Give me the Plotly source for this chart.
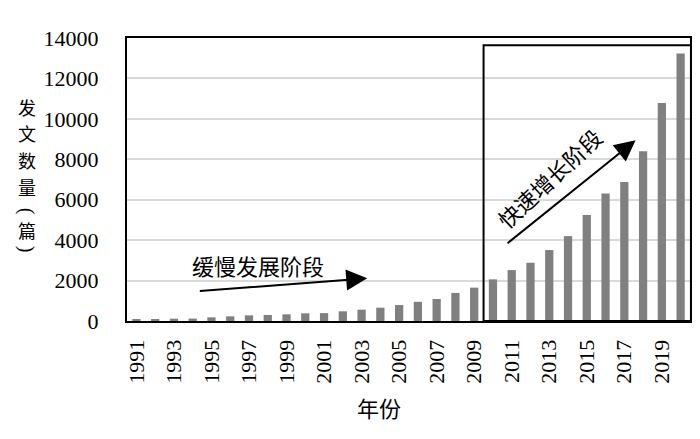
import plotly.graph_objects as go

years = list(range(1991, 2021))
counts = [70, 90, 115, 120, 180, 230, 280, 300, 330, 380,
          390, 480, 560, 660, 790, 950, 1090, 1390, 1650, 2060,
          2520, 2880, 3510, 4200, 5240, 6310, 6880, 8400, 10790, 13230]
tick_years = list(range(1991, 2020, 2))
y_ticks = list(range(0, 14001, 2000))
y_title_chars = ["发", "文", "数", "量", "(", "篇", ")"]
y_title_pos = [107, 133.5, 160, 186.5, 211, 230, 249]  # pixel centres in window
y_title_rot = [0, 0, 0, 0, 90, 0, 90]

serif = "Liberation Serif, Times New Roman, Times, serif"
cjk = "Noto Sans CJK SC, sans-serif"

OFF = 8  # default body margin of the page
W, H = 700 - OFF, 439 - OFF
L, R, T, B = 127 - OFF, 8, 38 - OFF, 118
pw, ph = W - L - R, H - T - B


def px_x(p):
    return (p - OFF - L) / pw


def px_y(p):
    return (T + ph - (p - OFF)) / ph


fig = go.Figure()
fig.add_trace(go.Bar(x=years, y=counts, marker_color="#808080",
                     marker_line_width=0, width=0.44))

annotations = []
annotations.append(dict(x=2003.3, y=2110, ax=1994.3, ay=1480,
                        xref="x", yref="y", axref="x", ayref="y",
                        showarrow=True, arrowhead=2, arrowsize=2.1,
                        arrowwidth=2, arrowcolor="black", text="", standoff=0))
annotations.append(dict(x=1997.5, y=2770, xref="x", yref="y", showarrow=False,
                        xanchor="center", yanchor="middle",
                        text="缓慢发展阶段", font=dict(family=cjk, size=22, color="black")))
annotations.append(dict(x=2017.6, y=8940, ax=2010.7, ay=3790,
                        xref="x", yref="y", axref="x", ayref="y",
                        showarrow=True, arrowhead=2, arrowsize=2.1,
                        arrowwidth=2, arrowcolor="black", text="", standoff=0))
annotations.append(dict(x=2012.96, y=7090, xref="x", yref="y", showarrow=False,
                        xanchor="center", yanchor="middle", textangle=-43,
                        text="快速增长阶段", font=dict(family=cjk, size=22, color="black")))
annotations.append(dict(x=px_x(380), y=px_y(407), xref="paper", yref="paper",
                        xanchor="center", yanchor="middle",
                        showarrow=False, text="年份",
                        font=dict(family=cjk, size=22, color="black")))
# vertical y-axis title, one character per annotation
for ch, py, rot in zip(y_title_chars, y_title_pos, y_title_rot):
    fam = serif if rot else cjk
    size = 20 if rot else 18
    annotations.append(dict(x=px_x(27), y=px_y(py), xref="paper", yref="paper",
                            xanchor="center", yanchor="middle", showarrow=False,
                            textangle=rot, text=ch,
                            font=dict(family=fam, size=size, color="black")))

fig.update_layout(
    width=W, height=H,
    margin=dict(l=L, r=R, t=T, b=B),
    paper_bgcolor="white", plot_bgcolor="white",
    showlegend=False,
    font=dict(family=serif, size=22, color="black"),
    annotations=annotations,
    shapes=[dict(type="rect", xref="x", yref="y", x0=2009.5, x1=2020.55,
                 y0=0, y1=13640, line=dict(color="black", width=2))],
    xaxis=dict(range=[1990.5, 2020.5], tickmode="array", tickvals=tick_years,
               ticktext=[str(v) for v in tick_years], tickangle=-90,
               showgrid=False, showline=True, linecolor="black", linewidth=2,
               mirror=True, ticks="", ticklabelstandoff=8,
               tickfont=dict(family=serif, size=22, color="black"), zeroline=False),
    yaxis=dict(range=[0, 14000], tickmode="array", tickvals=y_ticks,
               ticktext=[str(v) for v in y_ticks],
               showgrid=True, gridcolor="#d9d9d9", gridwidth=1.5,
               showline=True, linecolor="black", linewidth=2, mirror=True,
               ticks="", ticklabelstandoff=22, zeroline=False,
               tickfont=dict(family=serif, size=22, color="black")),
)

fig.write_html("out.html")
